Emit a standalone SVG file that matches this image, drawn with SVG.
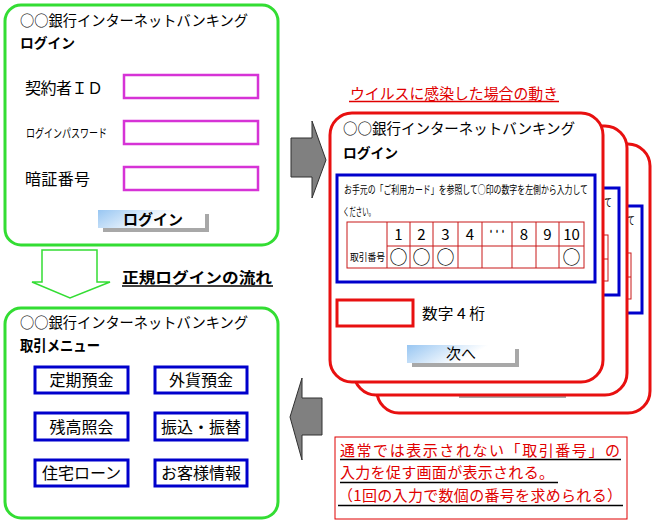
<svg xmlns="http://www.w3.org/2000/svg" xmlns:xlink="http://www.w3.org/1999/xlink" width="654" height="524" viewBox="0 0 654 524">
<style>
.t{font-family:"Noto Sans CJK JP","Noto Sans CJK SC",sans-serif;fill:#000}
.b{font-weight:bold}
.scr{fill:#fff;stroke:#33dd33;stroke-width:3}
.mag{fill:#fff;stroke:#d633d6;stroke-width:2.5}
.blu{fill:#fff;stroke:#0000cc;stroke-width:3}
.redc{fill:#fff;stroke:#e81010;stroke-width:3}
.tbl{fill:none;stroke:#c81818;stroke-width:1}
.shadow{fill:#a8a8a8}
.btn{fill:url(#btnGrad)}
.garrow{fill:#808080;stroke:#303030;stroke-width:1}
.rt{fill:#e00000}
.ul{stroke:#000;stroke-width:1.3}
</style>
<defs>
<linearGradient id="btnGrad" x1="0" y1="0" x2="1" y2="0.3">
<stop offset="0" stop-color="#98c6f2"/>
<stop offset="0.7" stop-color="#ffffff"/>
<stop offset="1" stop-color="#ffffff"/>
</linearGradient>
<g id="cardBody">
<rect x="0" y="0" width="273" height="269" rx="22" class="redc"/>
<text x="13" y="20.5" class="t" font-size="15" textLength="232" lengthAdjust="spacingAndGlyphs">○○銀行インターネットバンキング</text>
<text x="13" y="44.5" class="t b" font-size="14" textLength="55" lengthAdjust="spacingAndGlyphs">ログイン</text>
<rect x="7" y="62" width="258" height="107" class="blu"/>
<text x="14" y="81" class="t" font-size="11" textLength="244" lengthAdjust="spacingAndGlyphs">お手元の「ご利用カード」を参照して○印の数字を左側から入力して</text>
<text x="13" y="103" class="t" font-size="11" textLength="32" lengthAdjust="spacingAndGlyphs">ください。</text>
<g class="tbl">
<rect x="17" y="109" width="237" height="46"/>
<line x1="57" y1="133" x2="254" y2="133"/>
<line x1="57" y1="109" x2="57" y2="155"/>
<line x1="80" y1="109" x2="80" y2="155"/>
<line x1="103" y1="109" x2="103" y2="155"/>
<line x1="128" y1="109" x2="128" y2="155"/>
<line x1="152" y1="109" x2="152" y2="155"/>
<line x1="182" y1="109" x2="182" y2="155"/>
<line x1="206" y1="109" x2="206" y2="155"/>
<line x1="229" y1="109" x2="229" y2="155"/>
</g>
<g class="t" font-size="15" text-anchor="middle">
<text x="68.5" y="127">1</text>
<text x="91.5" y="127">2</text>
<text x="115.5" y="127">3</text>
<text x="140" y="127">4</text>
<text x="194" y="127">8</text>
<text x="217.5" y="127">9</text>
<text x="241.5" y="127">10</text>
</g>
<text x="158" y="124" class="t" font-size="15" textLength="18" lengthAdjust="spacingAndGlyphs">・・・</text>
<g class="t" font-size="18" text-anchor="middle">
<text x="68.5" y="150.5">○</text>
<text x="91.5" y="150.5">○</text>
<text x="115.5" y="150.5">○</text>
<text x="241.5" y="150.5">○</text>
</g>
<text x="20" y="148" class="t" font-size="10" textLength="35" lengthAdjust="spacingAndGlyphs">取引番号</text>
<rect x="7" y="187" width="76" height="26" class="redc"/>
<text x="92" y="206" class="t" font-size="15" textLength="63" lengthAdjust="spacingAndGlyphs">数字 4 桁</text>
<rect x="82" y="236" width="107" height="18" class="shadow"/>
<rect x="77" y="232" width="108" height="18" class="btn"/>
<text x="131" y="246" class="t" font-size="15" text-anchor="middle">次へ</text>
</g>
</defs>

<g id="login-screen">
<rect x="5" y="5" width="273" height="240" rx="16" class="scr"/>
<text x="20" y="25.5" class="t" font-size="15" textLength="228" lengthAdjust="spacingAndGlyphs">○○銀行インターネットバンキング</text>
<text x="20" y="47.5" class="t b" font-size="14" textLength="55" lengthAdjust="spacingAndGlyphs">ログイン</text>
<text x="25" y="94" class="t" font-size="16" textLength="78" lengthAdjust="spacing">契約者ＩＤ</text>
<rect x="124" y="75" width="134" height="23" class="mag"/>
<text x="26" y="138" class="t" font-size="12" textLength="81" lengthAdjust="spacingAndGlyphs">ログインパスワード</text>
<rect x="124" y="121" width="134" height="23" class="mag"/>
<text x="25" y="185" class="t" font-size="16" textLength="65" lengthAdjust="spacing">暗証番号</text>
<rect x="124" y="167" width="134" height="23" class="mag"/>
<rect x="103" y="214" width="106" height="18" class="shadow"/>
<rect x="98" y="210" width="107" height="18" class="btn"/>
<text x="153" y="224.5" class="t b" font-size="15" text-anchor="middle" textLength="60" lengthAdjust="spacingAndGlyphs">ログイン</text>
</g>

<g id="menu-screen">
<rect x="5" y="308" width="273" height="210" rx="16" class="scr"/>
<text x="20" y="327.5" class="t" font-size="15" textLength="228" lengthAdjust="spacingAndGlyphs">○○銀行インターネットバンキング</text>
<text x="20" y="350.5" class="t b" font-size="15" textLength="80" lengthAdjust="spacingAndGlyphs">取引メニュー</text>
<g id="menu-teiki"><rect x="35" y="367" width="93" height="26" class="blu"/><text x="81.5" y="386" class="t" font-size="16" text-anchor="middle">定期預金</text></g>
<g id="menu-gaika"><rect x="155" y="367" width="92" height="26" class="blu"/><text x="201" y="386" class="t" font-size="16" text-anchor="middle">外貨預金</text></g>
<g id="menu-zandaka"><rect x="35" y="413" width="93" height="27" class="blu"/><text x="81.5" y="432.5" class="t" font-size="16" text-anchor="middle">残高照会</text></g>
<g id="menu-furikomi"><rect x="155" y="413" width="92" height="27" class="blu"/><text x="201" y="432.5" class="t" font-size="16" text-anchor="middle">振込・振替</text></g>
<g id="menu-jutaku"><rect x="35" y="460" width="93" height="26" class="blu"/><text x="81.5" y="479" class="t" font-size="16" text-anchor="middle">住宅ローン</text></g>
<g id="menu-kyaku"><rect x="155" y="460" width="92" height="26" class="blu"/><text x="201" y="479" class="t" font-size="16" text-anchor="middle">お客様情報</text></g>
</g>

<g id="virus-card3"><use xlink:href="#cardBody" href="#cardBody" transform="translate(377,144)"/></g>
<g id="virus-card2"><use xlink:href="#cardBody" href="#cardBody" transform="translate(354,126)"/></g>
<g id="virus-card1"><use xlink:href="#cardBody" href="#cardBody" transform="translate(330,113)"/></g>

<g id="label-normal">
<text x="122" y="283" class="t b" font-size="15" textLength="150" lengthAdjust="spacingAndGlyphs">正規ログインの流れ</text>
<line x1="122" y1="286" x2="273" y2="286" class="ul"/>
</g>
<g id="label-virus">
<text x="350" y="98.5" class="t rt" font-size="15" textLength="208" lengthAdjust="spacingAndGlyphs">ウイルスに感染した場合の動き</text>
<line x1="349" y1="101.5" x2="559" y2="101.5" stroke="#e00000" stroke-width="1.3"/>
</g>

<g id="note">
<rect x="335" y="437" width="292" height="82" fill="#fff" stroke="#e00000" stroke-width="1"/>
<text x="340" y="455.5" class="t rt" font-size="15" textLength="280" lengthAdjust="spacing">通常では表示されない「取引番号」の</text>
<line x1="340" y1="459.5" x2="621" y2="459.5" class="ul"/>
<text x="340" y="478" class="t rt" font-size="15" textLength="214" lengthAdjust="spacing">入力を促す画面が表示される。</text>
<line x1="340" y1="482.5" x2="558" y2="482.5" class="ul"/>
<text x="338" y="501" class="t rt" font-size="15" textLength="284" lengthAdjust="spacing">（1回の入力で数個の番号を求められる）</text>
<line x1="338" y1="505.5" x2="623" y2="505.5" class="ul"/>
</g>

<g id="connectors">
<polygon points="42,250 97,250 97,282 110,282 70,298 32,282 42,282" fill="#fff" stroke="#33dd33" stroke-width="1.5"/>
<polygon points="291,138 312,138 312,121 326,160 312,198 312,177 291,177" class="garrow"/>
<polygon points="322,398 302,398 302,378 290,417 302,460 302,435 322,435" class="garrow"/>
</g>
</svg>
